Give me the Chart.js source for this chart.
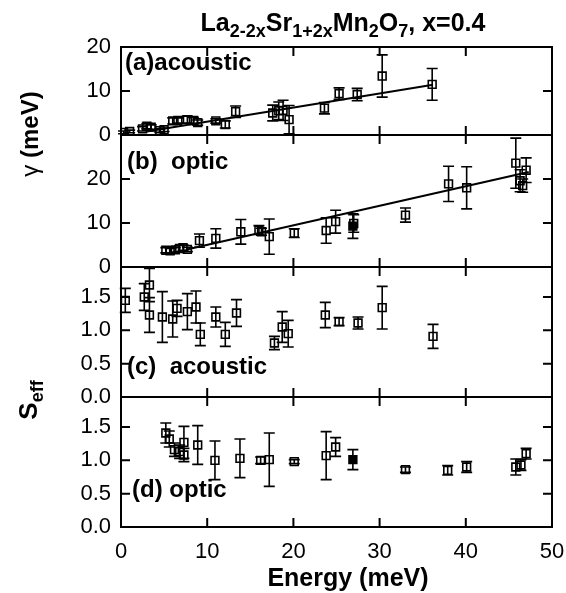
<!DOCTYPE html>
<html>
<head>
<meta charset="utf-8">
<script src="https://cdn.jsdelivr.net/npm/chart.js@4.4.1/dist/chart.umd.min.js"></script>
<style>
  html, body { margin: 0; padding: 0; background: #fff; }
  #wrap { position: relative; width: 566px; height: 593px; font-family: 'Liberation Sans', Arial, sans-serif; color: #000; }
  canvas { position: absolute; left: 0; top: 0; }
  .lbl { position: absolute; font-weight: bold; white-space: nowrap; line-height: 1; }
  .lbl sub { font-size: 18px; vertical-align: -6px; line-height: 0; }
  #title { left: 343px; top: 10px; font-size: 25px; transform: translateX(-50%); }
  #xlab { left: 348px; top: 565px; font-size: 25px; transform: translateX(-50%); }
  #ylab1 { left: 30px; top: 134px; font-size: 24px; transform: translate(-50%, -50%) rotate(-90deg); }
  #ylab2 { left: 28px; top: 400px; font-size: 26px; transform: translate(-50%, -50%) rotate(-90deg); }
</style>
</head>
<body>
<div id="wrap">
  <canvas id="panelA" width="566" height="593"></canvas>
  <canvas id="panelB" width="566" height="593"></canvas>
  <canvas id="panelC" width="566" height="593"></canvas>
  <canvas id="panelD" width="566" height="593"></canvas>
  <div class="lbl" id="title">La<sub>2-2x</sub>Sr<sub>1+2x</sub>Mn<sub>2</sub>O<sub>7</sub>, x=0.4</div>
  <div class="lbl" id="xlab">Energy (meV)</div>
  <div class="lbl" id="ylab1"><span style="font-weight:normal">γ</span> (meV)</div>
  <div class="lbl" id="ylab2">S<sub>eff</sub></div>
</div>
<script>
// --- data ---
const energyTicks = [0, 10, 20, 30, 40, 50];
const gammaTicks = [0, 10, 20];
const seffTicks = [0, 0.5, 1.0, 1.5];

// (a) acoustic linewidth
const energyA = [0.3, 1.0, 2.5, 3.0, 3.5, 4.5, 5.0, 6.0, 6.6, 7.7, 8.4, 8.9, 11.0, 12.1, 13.3, 17.6, 18.3, 18.8, 19.5, 23.6, 25.3, 27.4, 30.3, 36.1];
const gammaA  = [0.6, 0.8, 1.4, 2.0, 1.8, 1.0, 1.2, 3.2, 3.3, 3.5, 3.3, 2.8, 3.2, 2.4, 5.3, 5.0, 5.5, 5.6, 3.5, 6.1, 9.4, 9.2, 13.4, 11.5];
const gammaErrA = [0.3, 0.3, 0.5, 0.6, 0.5, 0.4, 0.4, 0.7, 0.6, 0.8, 0.7, 0.6, 0.5, 0.8, 1.3, 1.8, 2.0, 2.3, 3.2, 1.3, 1.3, 1.4, 4.8, 3.6];
const fitEnergyA = [3.0, 36.2];
const fitGammaA  = [0.8, 11.4];

// (b) optic linewidth
const energyB = [5.2, 5.7, 6.3, 6.8, 7.2, 7.7, 9.1, 11.0, 13.9, 16.0, 16.3, 17.2, 20.1, 23.8, 24.9, 27.0, 33.0, 38.0, 40.1, 45.8, 46.3, 46.6, 47.0];
const gammaB  = [3.8, 3.7, 3.9, 4.2, 4.4, 4.0, 6.0, 6.5, 8.0, 8.4, 8.0, 6.9, 7.7, 8.3, 10.3, 9.9, 11.8, 18.9, 18.0, 23.6, 19.6, 18.5, 22.0];
const gammaErrB = [0.6, 0.5, 0.5, 0.7, 0.6, 0.5, 1.5, 2.2, 2.8, 1.0, 0.8, 4.0, 1.0, 2.9, 2.6, 2.0, 1.6, 4.0, 4.8, 5.7, 2.5, 1.5, 2.8];
const energyBFilled = [26.9];
const gammaBFilled = [9.3];
const gammaErrBFilled = [2.8];
const fitEnergyB = [7.5, 47.3];
const fitGammaB  = [3.9, 21.6];

// (c) acoustic S_eff
const energyC = [0.5, 2.7, 3.3, 3.3, 4.8, 6.0, 6.5, 7.7, 8.7, 9.2, 11.0, 12.1, 13.4, 17.8, 18.7, 19.4, 23.7, 25.3, 27.5, 30.3, 36.2];
const seffC   = [1.45, 1.50, 1.68, 1.23, 1.20, 1.17, 1.33, 1.28, 1.35, 0.94, 1.20, 0.94, 1.26, 0.81, 1.05, 0.95, 1.23, 1.13, 1.11, 1.34, 0.91];
const seffErrC = [0.18, 0.2, 0.25, 0.26, 0.38, 0.27, 0.12, 0.27, 0.24, 0.17, 0.15, 0.18, 0.2, 0.1, 0.23, 0.2, 0.19, 0.06, 0.09, 0.32, 0.18];

// (d) optic S_eff
const energyD = [5.2, 5.6, 6.2, 6.8, 7.3, 7.3, 8.9, 10.9, 13.8, 16.2, 17.2, 20.1, 23.8, 24.9, 33.0, 37.9, 40.1, 45.8, 46.4, 47.0];
const seffD   = [1.41, 1.32, 1.16, 1.13, 1.27, 1.08, 1.23, 1.00, 1.03, 1.00, 1.01, 0.98, 1.07, 1.20, 0.86, 0.85, 0.90, 0.90, 0.93, 1.10];
const seffErrD = [0.15, 0.12, 0.1, 0.1, 0.24, 0.1, 0.29, 0.29, 0.29, 0.05, 0.4, 0.03, 0.36, 0.14, 0.04, 0.07, 0.08, 0.12, 0.08, 0.08];
const energyDFilled = [26.9];
const seffDFilled = [1.01];
const seffErrDFilled = [0.15];

Chart.defaults.font.family = "'Liberation Sans', Arial, sans-serif";
Chart.defaults.color = '#000';

function pts(xs, ys) {
  return xs.map((x, i) => ({ x: x, y: ys[i] }));
}

function markers(xs, ys, errs, filled) {
  return {
    data: pts(xs, ys),
    errors: errs,
    pointStyle: 'rect',
    pointRadius: 5.5,
    borderWidth: 1.6,
    borderColor: '#000',
    backgroundColor: filled ? '#000' : 'rgba(0,0,0,0)',
    showLine: false
  };
}

function fitLine(xs, ys) {
  return {
    data: pts(xs, ys),
    showLine: true,
    pointRadius: 0,
    borderWidth: 2,
    borderColor: '#000'
  };
}

// error bars drawn through the markers
const errorBars = {
  id: 'errorBars',
  afterDatasetsDraw(chart) {
    const { ctx, scales: { x, y } } = chart;
    ctx.save();
    ctx.strokeStyle = '#000';
    ctx.lineWidth = 1.6;
    chart.data.datasets.forEach(ds => {
      if (!ds.errors) return;
      ds.data.forEach((p, i) => {
        const e = ds.errors[i];
        const px = x.getPixelForValue(p.x);
        const y1 = y.getPixelForValue(p.y - e);
        const y2 = y.getPixelForValue(p.y + e);
        ctx.beginPath();
        ctx.moveTo(px, y1); ctx.lineTo(px, y2);
        ctx.moveTo(px - 5.5, y1); ctx.lineTo(px + 5.5, y1);
        ctx.moveTo(px - 5.5, y2); ctx.lineTo(px + 5.5, y2);
        ctx.stroke();
      });
    });
    ctx.restore();
  }
};

// box frame with inward ticks on all sides + panel label
const frame = {
  id: 'frame',
  afterDraw(chart, args, opts) {
    const { ctx, chartArea: a, scales: { x, y } } = chart;
    const t = 9;
    ctx.save();
    ctx.strokeStyle = '#000';
    ctx.lineWidth = 2;
    ctx.strokeRect(a.left, a.top, a.right - a.left, a.bottom - a.top);
    ctx.beginPath();
    energyTicks.forEach(v => {
      const px = x.getPixelForValue(v);
      ctx.moveTo(px, a.top); ctx.lineTo(px, a.top + t);
      ctx.moveTo(px, a.bottom); ctx.lineTo(px, a.bottom - t);
    });
    y.ticks.forEach(tk => {
      const py = y.getPixelForValue(tk.value);
      ctx.moveTo(a.left, py); ctx.lineTo(a.left + t, py);
      ctx.moveTo(a.right, py); ctx.lineTo(a.right - t, py);
    });
    ctx.stroke();
    ctx.fillStyle = '#000';
    ctx.font = "bold 24px 'Liberation Sans', Arial, sans-serif";
    ctx.textBaseline = 'alphabetic';
    ctx.fillText(opts.label, opts.lx, opts.ly);
    ctx.restore();
  }
};

function makePanel(id, cfg) {
  const showX = !!cfg.showX;
  new Chart(document.getElementById(id), {
    type: 'scatter',
    data: { datasets: cfg.datasets },
    options: {
      responsive: false,
      animation: false,
      events: [],
      layout: { padding: { left: 0, right: 14, top: cfg.top, bottom: showX ? 0 : 593 - cfg.bottom } },
      plugins: {
        legend: { display: false },
        tooltip: { enabled: false },
        frame: { label: cfg.label, lx: cfg.lx, ly: cfg.ly }
      },
      scales: {
        x: {
          type: 'linear', min: 0, max: 50,
          display: showX,
          afterFit(s) {
            s.height = showX ? 66 : 0;
            s.paddingLeft = 0;
            s.paddingRight = 0;
          },
          afterBuildTicks(s) { s.ticks = energyTicks.map(v => ({ value: v })); },
          grid: { display: false, drawTicks: false },
          border: { display: false },
          ticks: { padding: 12, font: { size: 22 }, color: '#000', maxRotation: 0 }
        },
        y: {
          type: 'linear', min: cfg.min, max: cfg.max,
          afterFit(s) {
            s.width = 121;
            s.paddingTop = 0;
            s.paddingBottom = 0;
          },
          afterBuildTicks(s) { s.ticks = cfg.ticks.map(v => ({ value: v })); },
          grid: { display: false, drawTicks: false },
          border: { display: false },
          ticks: { padding: 10, font: { size: 22 }, color: '#000', callback: cfg.fmt }
        }
      }
    },
    plugins: [errorBars, frame]
  });
}

makePanel('panelA', {
  top: 47, bottom: 135, min: 0, max: 20, ticks: gammaTicks, fmt: v => String(v),
  label: '(a)acoustic', lx: 125, ly: 70,
  datasets: [fitLine(fitEnergyA, fitGammaA), markers(energyA, gammaA, gammaErrA, false)]
});
makePanel('panelB', {
  top: 135, bottom: 267, min: 0, max: 30, ticks: gammaTicks, fmt: v => String(v),
  label: '(b)  optic', lx: 127, ly: 169,
  datasets: [fitLine(fitEnergyB, fitGammaB), markers(energyB, gammaB, gammaErrB, false),
             markers(energyBFilled, gammaBFilled, gammaErrBFilled, true)]
});
makePanel('panelC', {
  top: 267, bottom: 397, min: 0, max: 1.95, ticks: seffTicks, fmt: v => v.toFixed(1),
  label: '(c)  acoustic', lx: 127, ly: 374,
  datasets: [markers(energyC, seffC, seffErrC, false)]
});
makePanel('panelD', {
  top: 397, bottom: 527, min: 0, max: 1.95, ticks: seffTicks, fmt: v => v.toFixed(1),
  label: '(d) optic', lx: 132, ly: 497, showX: true,
  datasets: [markers(energyD, seffD, seffErrD, false),
             markers(energyDFilled, seffDFilled, seffErrDFilled, true)]
});
</script>
</body>
</html>
